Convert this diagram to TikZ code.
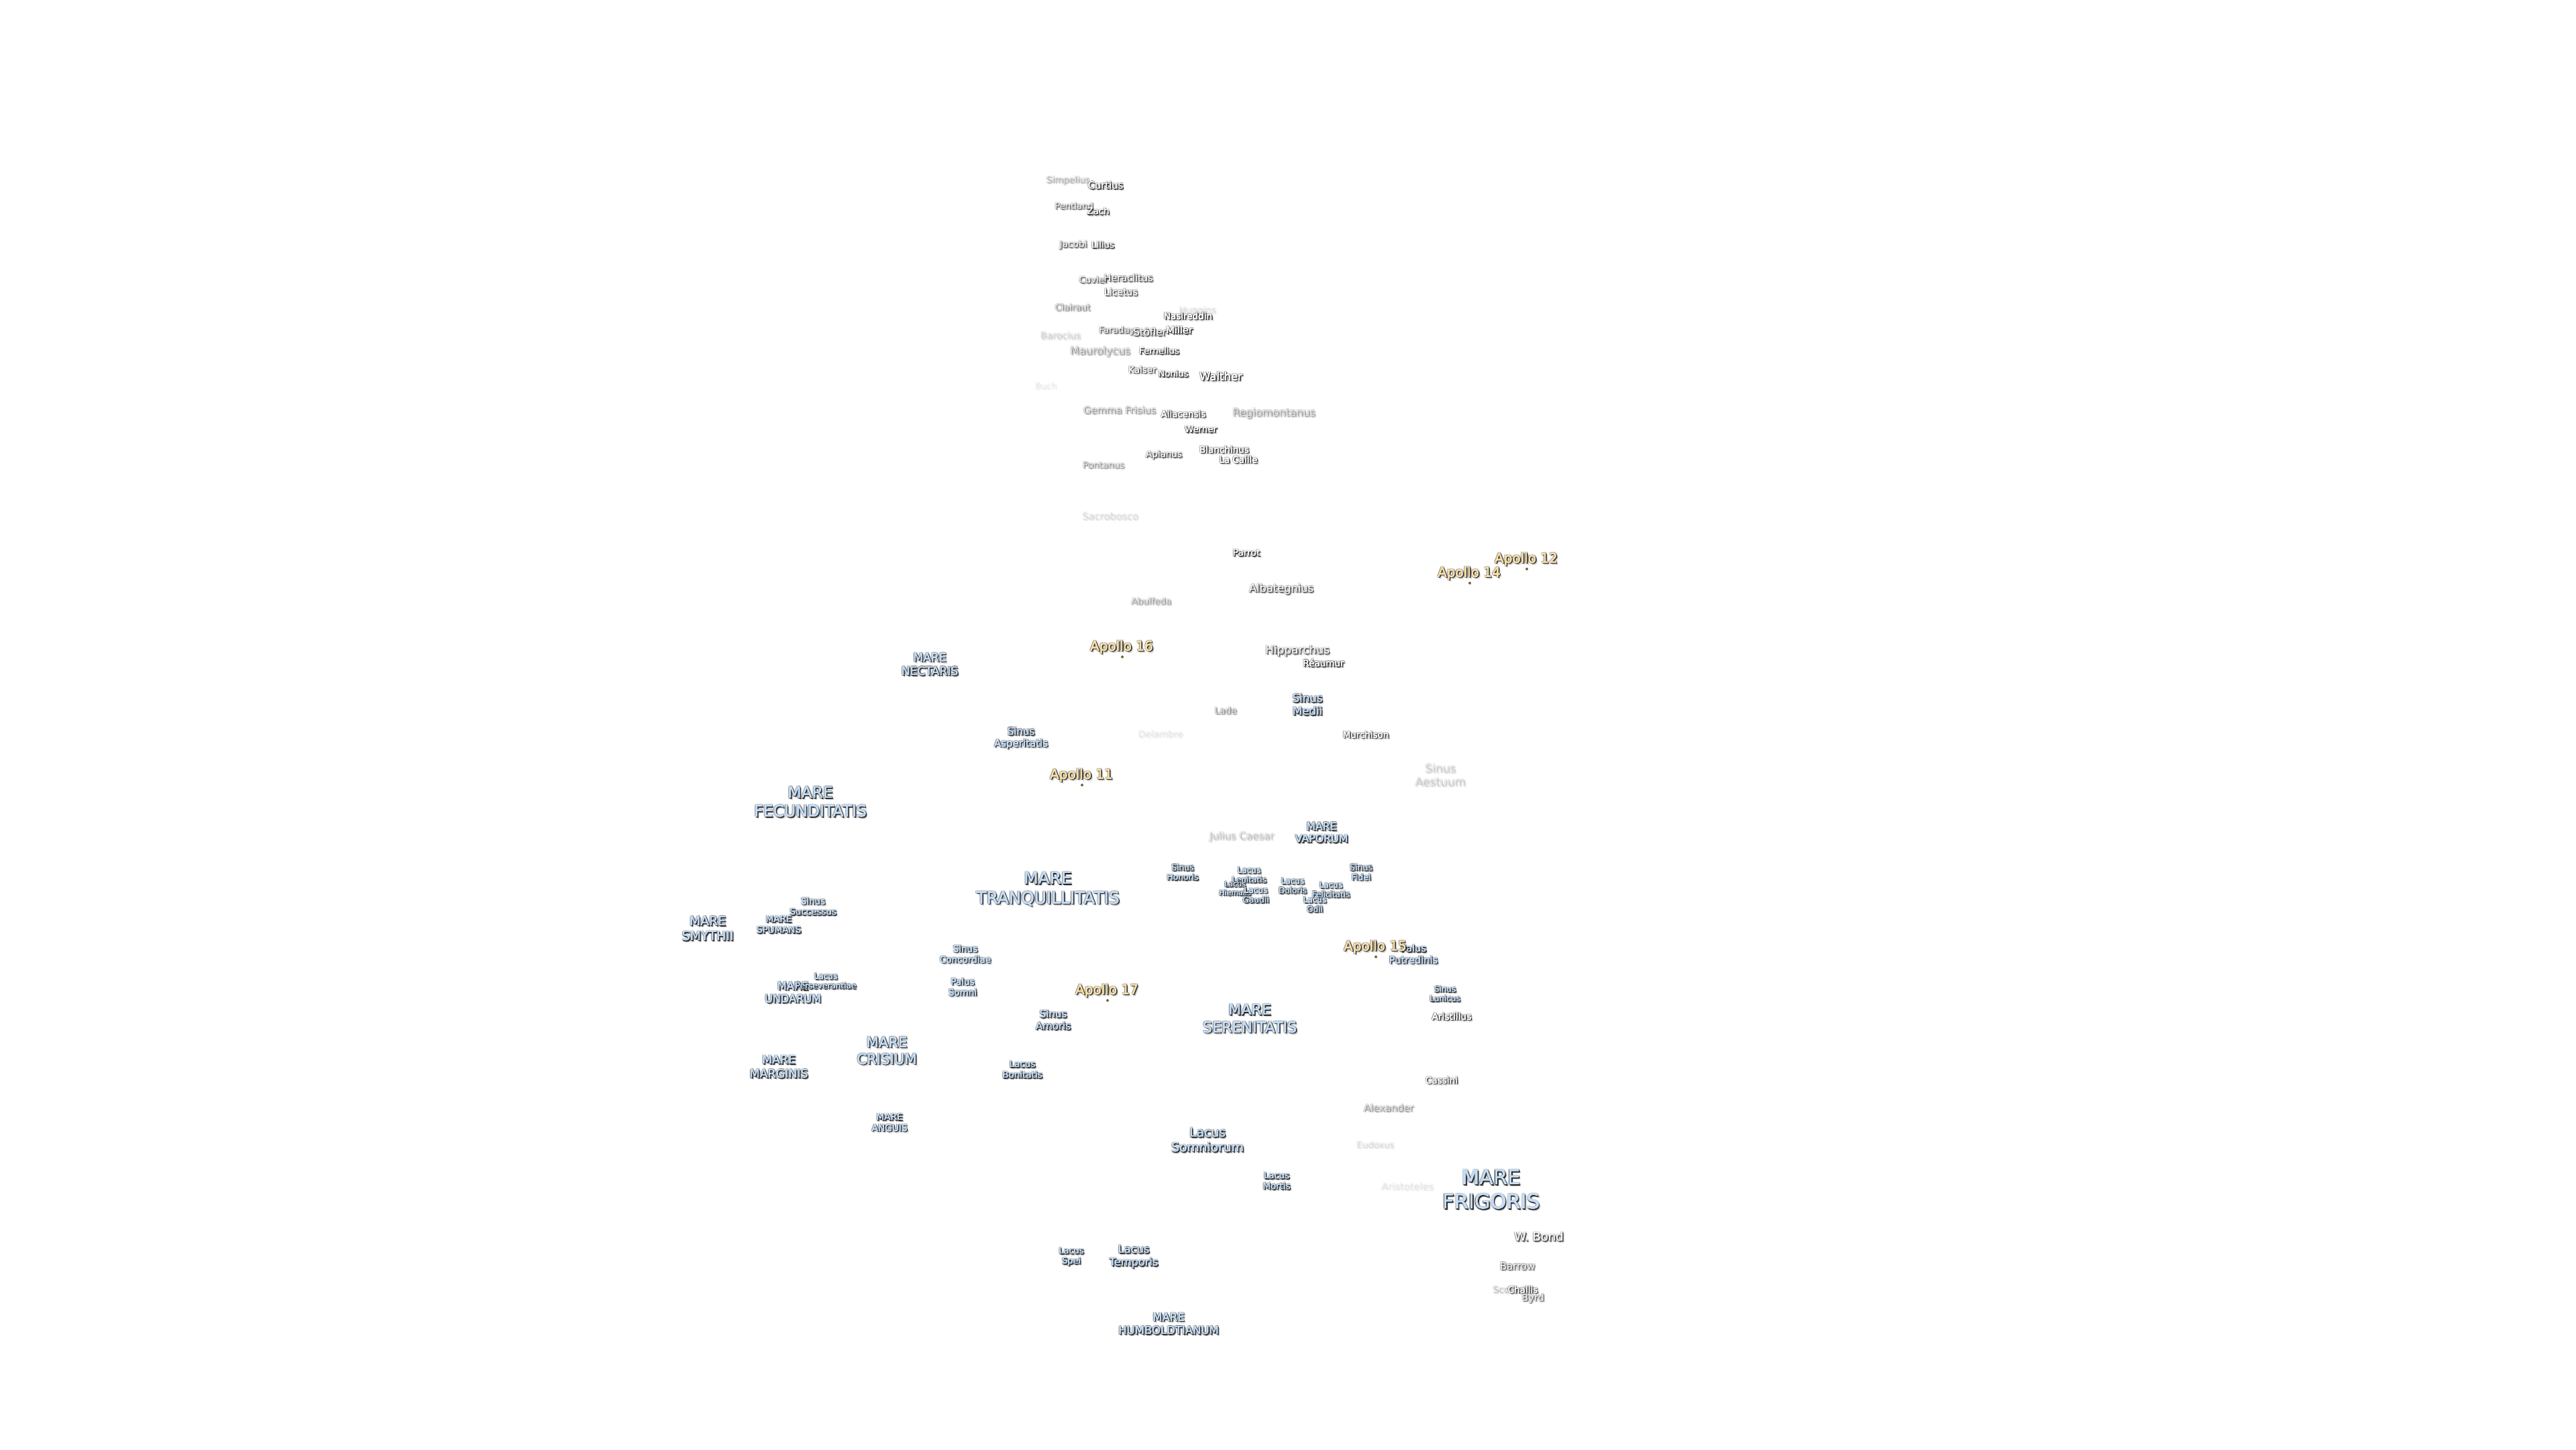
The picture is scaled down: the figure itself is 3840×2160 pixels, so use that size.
\documentclass[tikz,border=0pt]{standalone}
\usepackage{fontspec}
\setmainfont{DejaVu Sans}
\tikzset{>=latex}
\tikzset{
  placename/.style={inner sep=0pt, outer sep=0pt, align=center},
  landing/.style={circle, fill=apollodark, inner sep=0pt, minimum size=4pt},
}
\definecolor{shadowdark}{HTML}{1E1E1E}
\definecolor{apollodark}{HTML}{7A6238}
\definecolor{marefill}{HTML}{C4DDF6}
\definecolor{apollofill}{HTML}{F8DFA8}
\definecolor{craterfill}{HTML}{FAFAFA}
\def\placelabel#1#2#3#4#5#6#7{%
  \pgfmathsetmacro\myskip{1.18*#4}%
  \foreach \sx/\sy/\so [count=\si] in {3/3/.16, 2.4/1.2/.16, 1.2/2.4/.16, -1.6/-1.2/.12, 1.8/-1.4/.14, -1.4/1.8/.14, 1.8/1.8/.8, 1.2/.6/.6, .6/1.2/.6, -.8/-.4/.5, -.4/.7/.5, .7/-.7/.5}{%
    \pgfmathsetmacro\myop{\so*#6}%
    \node[placename, text=shadowdark, text opacity=\myop, font=\fontsize{#4}{\myskip}\selectfont] (#1-\si) at (#2+\sx,#3+\sy) {#7};
  }%
  \foreach \sx/\sy [count=\si from 20] in {-.3/0, .3/0, 0/-.3}{%
    \node[placename, text=#5, text opacity=#6, font=\fontsize{#4}{\myskip}\selectfont] (#1-\si) at (#2+\sx,#3+\sy) {#7};
  }%
  \node[placename, text=#5, text opacity=#6, font=\fontsize{#4}{\myskip}\selectfont] (#1) at (#2,#3) {#7};
}
\def\mare#1#2#3#4#5{\placelabel{#1}{#2}{#3}{#4}{marefill}{1}{#5}}
\def\crater#1#2#3#4#5#6{\placelabel{#1}{#2}{#3}{#4}{craterfill}{#5}{#6}}
\def\apollo#1#2#3#4{%
  \node[landing] (#1dot) at (#2+1,#3+16) {};
  \placelabel{#1}{#2}{#3+1.5}{20}{apollofill}{1}{#4}
}
\begin{document}
\begin{tikzpicture}[x=1pt,y=-1pt]
  \useasboundingbox (0,0) rectangle (3840,2160);

  \crater{simpelius}{1592}{269}{13.4}{.2}{Simpelius}
  \crater{curtius}{1648}{276}{14.7}{.85}{Curtius}
  \crater{pentland}{1601}{307}{13.1}{.45}{Pentland}
  \crater{zach}{1637}{315}{13.4}{.85}{Zach}
  \crater{jacobi}{1600}{365}{13.7}{.5}{Jacobi}
  \crater{lilius}{1644}{365}{13.3}{.75}{Lilius}
  \crater{cuvier}{1630}{417}{13.3}{.5}{Cuvier}
  \crater{heraclitus}{1682}{414}{14.5}{.6}{Heraclitus}
  \crater{licetus}{1671}{435}{14}{.7}{Licetus}
  \crater{clairaut}{1599}{458}{13.5}{.35}{Clairaut}
  \crater{huggins}{1785}{463}{13.5}{.07}{Huggins}
  \crater{nasireddin}{1771}{471}{13.5}{1}{Nasireddin}
  \crater{faraday}{1665}{493}{13.5}{.5}{Faraday}
  \crater{stofler}{1714}{495}{15}{.65}{Stöfler}
  \crater{miller}{1758}{492}{14.5}{1}{Miller}
  \crater{barocius}{1581}{500}{14}{.11}{Barocius}
  \crater{maurolycus}{1640}{524}{15.8}{.27}{Maurolycus}
  \crater{fernelius}{1728}{523}{13.3}{.8}{Fernelius}
  \crater{kaiser}{1703}{551}{13.5}{.7}{Kaiser}
  \crater{nonius}{1749}{557}{13.1}{.8}{Nonius}
  \crater{walther}{1820}{561}{16.5}{1}{Walther}
  \crater{buch}{1559}{575}{13}{.04}{Buch}
  \crater{gemma}{1669}{611}{14.6}{.27}{Gemma Frisius}
  \crater{aliacensis}{1764}{617}{13.4}{.85}{Aliacensis}
  \crater{regiomontanus}{1899}{616}{15.8}{.27}{Regiomontanus}
  \crater{werner}{1790}{640}{13.3}{.95}{Werner}
  \crater{blanchinus}{1825}{670}{13.5}{.9}{Blanchinus}
  \crater{lacaille}{1846}{685}{13.4}{1}{La Caille}
  \crater{apianus}{1735}{678}{13.5}{.65}{Apianus}
  \crater{pontanus}{1645}{693}{13.5}{.27}{Pontanus}
  \crater{sacrobosco}{1655}{769}{14.6}{.08}{Sacrobosco}

  \crater{parrot}{1858}{824}{13.8}{.85}{Parrot}
  \crater{albategnius}{1910}{878}{16.2}{.6}{Albategnius}
  \crater{abulfeda}{1716}{896}{13.5}{.27}{Abulfeda}
  \crater{hipparchus}{1934}{970}{17}{.6}{Hipparchus}
  \crater{reaumur}{1973}{988}{13.5}{.95}{Réaumur}
  \crater{lade}{1827}{1059}{13.6}{.35}{Lade}
  \crater{delambre}{1730}{1094}{13.6}{.05}{Delambre}
  \crater{murchison}{2036}{1095}{13.4}{.8}{Murchison}
  \crater{julius}{1851}{1247}{15}{.15}{Julius Caesar}
  \crater{aristillus}{2164}{1515}{13.8}{1}{Aristillus}
  \crater{cassini}{2149}{1610}{13.6}{.8}{Cassini}
  \crater{alexander}{2070}{1651}{14.8}{.27}{Alexander}
  \crater{eudoxus}{2050}{1706}{13.2}{.08}{Eudoxus}
  \crater{aristoteles}{2098}{1768}{14.7}{.05}{Aristoteles}
  \crater{wbond}{2294}{1843}{18}{.7}{W. Bond}
  \crater{barrow}{2262}{1887}{14.9}{.5}{Barrow}
  \crater{scoresby}{2256}{1923}{13.5}{.15}{Scoresby}
  \crater{challis}{2270}{1922}{13.5}{.8}{Challis}
  \crater{byrd}{2285}{1935}{14.4}{.5}{Byrd}

  \mare{nectaris}{1386}{990}{17.2}{MARE\\NECTARIS}
  \mare{medii}{1949}{1050}{16.6}{Sinus\\Medii}
  \mare{asperitatis}{1522}{1100}{15}{Sinus\\Asperitatis}
  \crater{aestuum}{2147}{1155}{17}{.12}{Sinus\\Aestuum}
  \mare{fecunditatis}{1208}{1195}{23.5}{MARE\\FECUNDITATIS}
  \mare{tranquillitatis}{1562}{1325}{24.8}{MARE\\TRANQUILLITATIS}
  \mare{honoris}{1763}{1300}{12.3}{Sinus\\Honoris}
  \mare{successus}{1212}{1351}{13.4}{Sinus\\Successus}
  \mare{spumans}{1161}{1378}{13.5}{MARE\\SPUMANS}
  \mare{smythii}{1055}{1384}{18.9}{MARE\\SMYTHII}
  \mare{concordiae}{1439}{1422}{13.5}{Sinus\\Concordiae}
  \mare{undarum}{1182}{1479}{16.1}{MARE\\UNDARUM}
  \mare{perseverantiae}{1231}{1462}{12.1}{Lacus\\Perseverantiae}
  \mare{somni}{1435}{1471}{13.5}{Palus\\Somni}
  \mare{amoris}{1570}{1520}{15}{Sinus\\Amoris}
  \mare{crisium}{1322}{1566}{21.2}{MARE\\CRISIUM}
  \mare{marginis}{1161}{1590}{17.4}{MARE\\MARGINIS}
  \mare{bonitatis}{1524}{1594}{13.5}{Lacus\\Bonitatis}
  \mare{anguis}{1326}{1673}{13.7}{MARE\\ANGUIS}
  \mare{vaporum}{1970}{1241}{15.8}{MARE\\VAPORUM}
  \mare{lenitatis}{1862}{1304}{12.1}{Lacus\\Lenitatis}
  \mare{hiemalis}{1841}{1324}{11}{Lacus\\Hiemalis}
  \mare{gaudii}{1872}{1334}{12.2}{Lacus\\Gaudii}
  \mare{doloris}{1927}{1320}{12}{Lacus\\Doloris}
  \mare{felicitatis}{1984}{1326}{12}{Lacus\\Felicitatis}
  \mare{odii}{1960}{1348}{12}{Lacus\\Odii}
  \mare{fidei}{2029}{1300}{12.5}{Sinus\\Fidei}
  \mare{putredinis}{2107}{1422}{14.6}{Palus\\Putredinis}
  \mare{lunicus}{2154}{1481}{12}{Sinus\\Lunicus}
  \mare{serenitatis}{1863}{1518}{22.2}{MARE\\SERENITATIS}
  \mare{somniorum}{1800}{1699}{18.7}{Lacus\\Somniorum}
  \mare{mortis}{1903}{1760}{13.3}{Lacus\\Mortis}
  \mare{frigoris}{2223}{1773}{30.5}{MARE\\FRIGORIS}
  \mare{spei}{1597}{1873}{12.9}{Lacus\\Spei}
  \mare{temporis}{1690}{1873}{16.2}{Lacus\\Temporis}
  \mare{humboldtianum}{1742}{1973}{16.5}{MARE\\HUMBOLDTIANUM}

  \apollo{apollotwelve}{2275}{832}{Apollo 12}
  \apollo{apollofourteen}{2190}{853}{Apollo 14}
  \apollo{apollosixteen}{1672}{963}{Apollo 16}
  \apollo{apolloeleven}{1612}{1154}{Apollo 11}
  \apollo{apolloseventeen}{1650}{1475}{Apollo 17}
  \apollo{apollofifteen}{2050}{1410}{Apollo 15}
\end{tikzpicture}
\end{document}
